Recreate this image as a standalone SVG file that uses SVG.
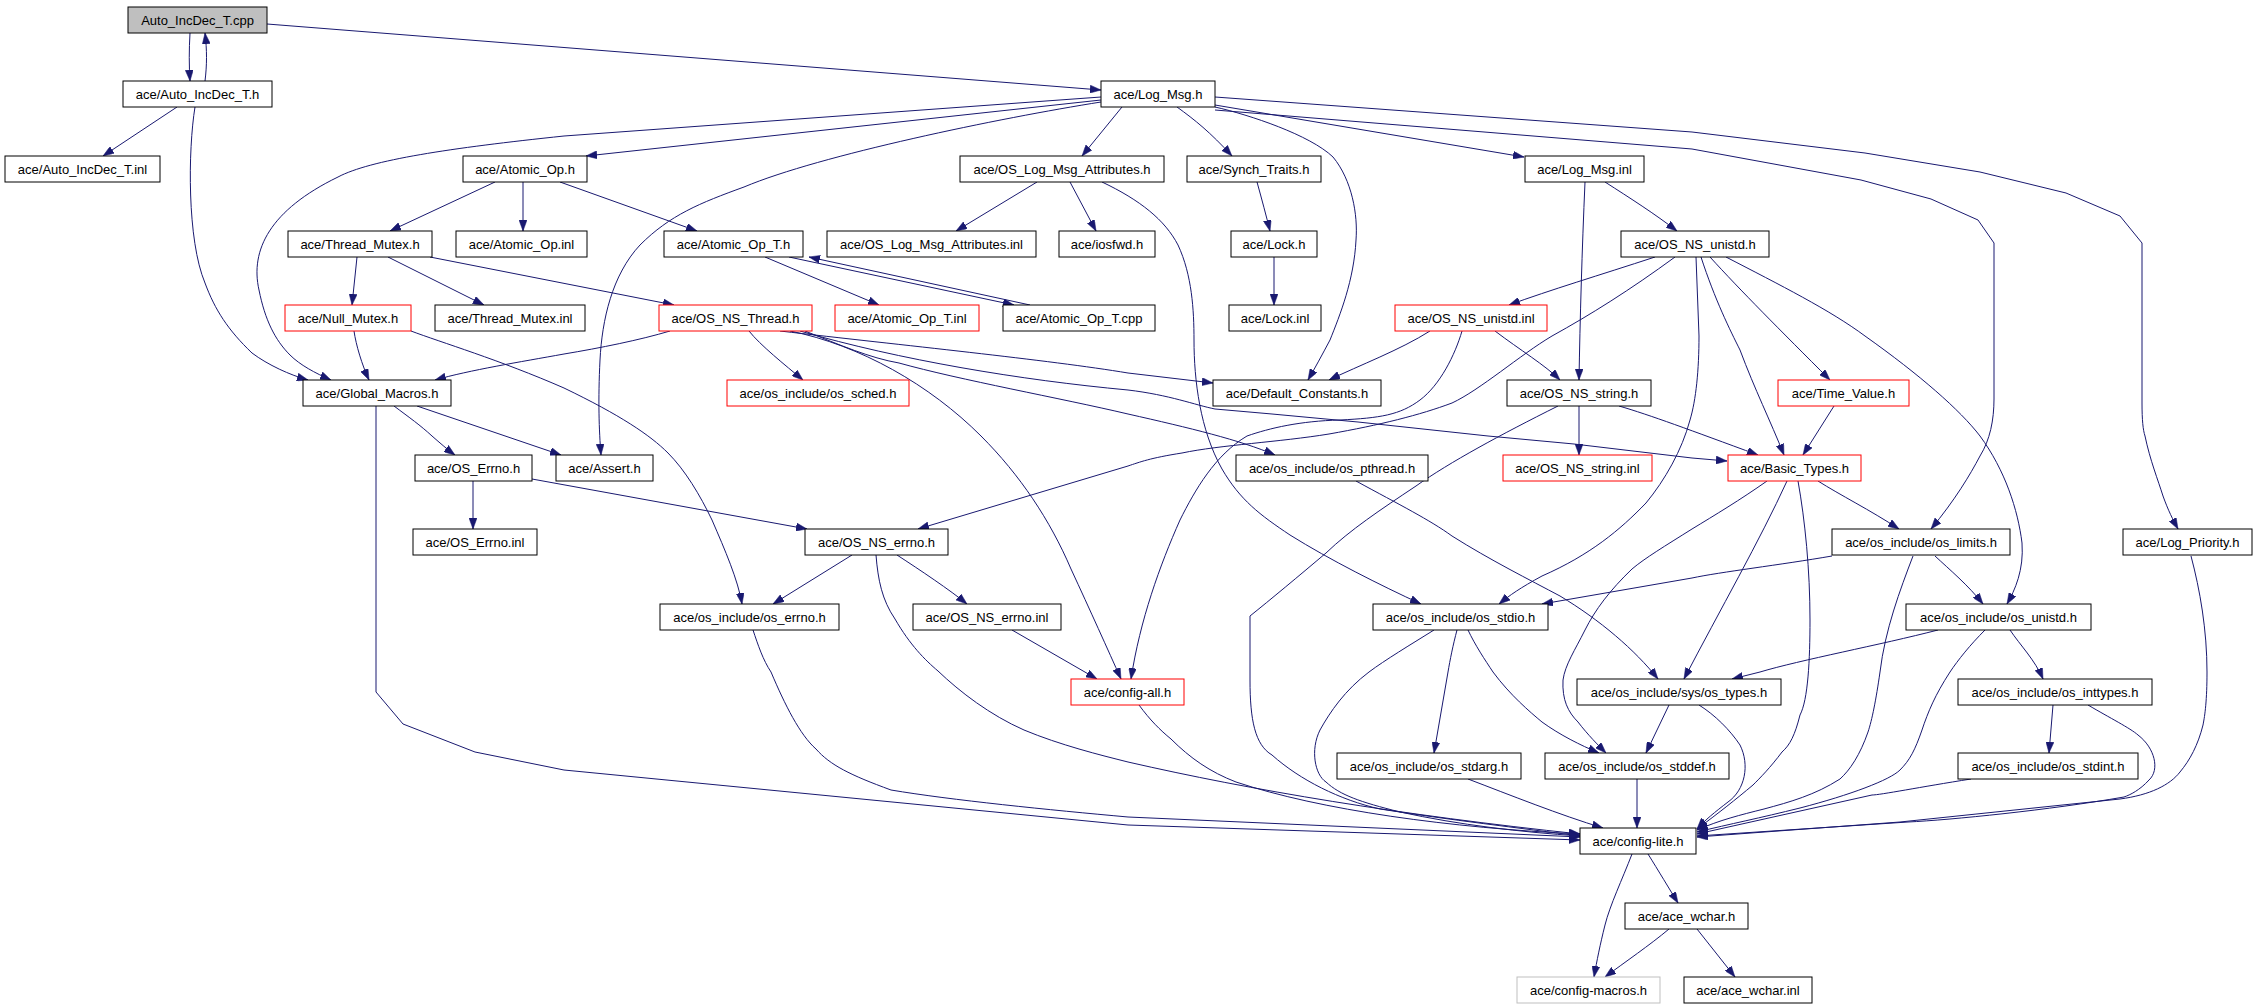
<svg xmlns="http://www.w3.org/2000/svg" width="2253" height="1008" viewBox="0 0 2253 1008">
<style>
.node rect{fill:#ffffff;stroke:#000000;stroke-width:1}
.node.red rect{stroke:#ff0000}
.node.root rect{fill:#bfbfbf}
.node.ext rect{stroke:#bfbfbf}
.node text{font-family:"Liberation Sans",Arial,sans-serif;font-size:13px;fill:#000000;text-anchor:middle}
#edges path{fill:none;stroke:#191970;stroke-width:1;marker-end:url(#arr)}
</style>
<defs>
<marker id="arr" viewBox="0 0 11 8" refX="11" refY="4" markerWidth="11" markerHeight="8" markerUnits="userSpaceOnUse" orient="auto">
<path d="M0,0 L11,4 L0,8 z" fill="#191970" stroke="#191970" stroke-width="0.5"/>
</marker>
</defs>
<rect x="0" y="0" width="2253" height="1008" fill="#ffffff"/>
<g id="edges">
<path d="M190,33 C189,50 189,65 190,81"/>
<path d="M205,81 C207,65 207,50 205,33"/>
<path d="M267,24 L1101,90"/>
<path d="M177,107 L103,156"/>
<path d="M195,107 C188,150 187,240 205,283 C215,310 228,330 252,353 C268,365 290,375 308,380"/>
<path d="M1101,97 L564,136 C450,148 370,160 338,177 C270,210 250,250 259,290 C265,320 275,340 290,355 C300,365 315,373 331,380"/>
<path d="M1101,100 L586,156"/>
<path d="M1101,102 C1000,118 820,155 744,187 C700,203 670,215 640,245 C612,275 602,320 600,360 C598,400 599,430 601,455"/>
<path d="M1122,107 L1082,156"/>
<path d="M1177,107 C1195,120 1210,132 1232,156"/>
<path d="M1215,107 C1250,115 1310,135 1333,157 C1352,180 1358,215 1356,240 C1354,280 1340,315 1330,340 C1322,355 1315,368 1308,380"/>
<path d="M1215,105 L1524,157"/>
<path d="M1215,110 L1692,149 L1861,180 L1931,199 L1978,220 L1994,243 L1994,399 C1994,420 1990,440 1980,456 C1970,475 1955,500 1931,529"/>
<path d="M1215,97 L1692,132 L1865,153 L1980,172 L2066,193 L2120,216 L2142,243 L2142,403 C2142,420 2143,430 2145,436 C2150,460 2158,480 2163,496 C2168,510 2173,520 2178,529"/>
<path d="M495,182 L390,231"/>
<path d="M523,182 L523,231"/>
<path d="M560,182 L697,231"/>
<path d="M1037,182 L956,231"/>
<path d="M1070,182 L1096,231"/>
<path d="M1102,182 C1140,200 1165,220 1178,245 C1192,275 1194,310 1194,340 C1194,380 1200,430 1222,469 C1240,500 1260,515 1290,535 C1330,560 1380,585 1421,604"/>
<path d="M1257,182 C1262,200 1266,215 1270,231"/>
<path d="M1274,257 L1274,305"/>
<path d="M1605,182 C1630,198 1655,214 1677,231"/>
<path d="M1585,182 C1582,250 1580,320 1579,380"/>
<path d="M357,257 L352,305"/>
<path d="M388,257 L484,305"/>
<path d="M430,257 L674,305"/>
<path d="M765,257 L879,305"/>
<path d="M789,257 L1014,305"/>
<path d="M1030,305 L809,257"/>
<path d="M354,331 C356,345 362,365 369,380"/>
<path d="M411,331 C440,342 500,360 564,388 C620,415 650,435 668,453 C685,470 700,495 712,520 C725,550 738,580 742,604"/>
<path d="M670,331 C640,340 600,348 564,354 C520,362 470,370 435,380"/>
<path d="M749,331 C760,345 785,365 803,380"/>
<path d="M790,331 C860,345 930,385 981,436 C1020,475 1050,520 1071,569 C1090,610 1108,650 1121,679"/>
<path d="M780,331 C900,345 1050,360 1128,373 L1213,383"/>
<path d="M800,331 C900,360 1020,380 1128,390 C1170,395 1195,405 1215,409 L1272,414 L1358,422 L1488,436 L1574,444 L1692,458 L1727,461"/>
<path d="M805,331 C840,345 870,358 899,363 C960,380 1060,398 1128,414 C1190,428 1240,440 1275,455"/>
<path d="M1655,257 C1600,275 1550,290 1509,305"/>
<path d="M1675,257 C1630,290 1590,315 1552,336 C1520,355 1480,390 1452,403 C1420,415 1380,425 1329,434 C1280,442 1220,445 1182,453 C1150,458 1140,462 1128,466 L918,529"/>
<path d="M1696,257 L1699,336 C1699,370 1696,400 1690,420 C1682,450 1665,480 1646,503 C1620,530 1590,555 1542,576 C1520,588 1510,595 1499,604"/>
<path d="M1701,257 C1715,300 1730,330 1740,350 C1755,390 1770,420 1784,455"/>
<path d="M1710,257 C1740,290 1780,330 1830,380"/>
<path d="M1726,257 C1780,285 1830,310 1865,336 C1920,375 1960,410 1980,436 C2005,470 2018,510 2022,543 C2024,570 2015,590 2007,604"/>
<path d="M1430,331 C1400,350 1360,365 1329,380"/>
<path d="M1495,331 C1520,350 1545,365 1560,380"/>
<path d="M1462,331 C1455,355 1440,385 1420,400 C1400,415 1380,418 1340,420 C1300,421 1270,428 1247,436 C1215,455 1195,490 1180,520 C1160,565 1140,620 1131,679"/>
<path d="M1579,406 L1579,455"/>
<path d="M1619,406 C1650,415 1690,430 1758,455"/>
<path d="M1558,406 C1500,435 1450,462 1416,486 C1380,510 1350,530 1326,553 C1300,575 1270,600 1250,616 L1250,680 C1250,720 1255,745 1272,755 C1300,780 1340,800 1380,809 C1450,820 1520,828 1580,836"/>
<path d="M1834,406 L1803,455"/>
<path d="M394,406 C410,418 420,425 432,436 C440,443 448,450 455,455"/>
<path d="M417,406 L561,455"/>
<path d="M376,406 L376,692 L403,724 L475,752 L564,770 L1128,825 L1580,840"/>
<path d="M473,481 L473,529"/>
<path d="M532,479 L807,529"/>
<path d="M852,555 L773,604"/>
<path d="M897,555 C920,570 950,590 967,604"/>
<path d="M876,555 C878,580 882,600 895,619 C910,645 925,660 938,671 C960,692 990,715 1024,730 C1060,745 1100,755 1128,762 C1250,790 1400,815 1580,834"/>
<path d="M753,630 C758,645 763,660 771,672 C785,705 800,735 816,749 C830,765 850,775 891,790 C950,800 1050,810 1128,817 L1580,837"/>
<path d="M1012,630 L1097,679"/>
<path d="M1139,705 C1150,720 1160,730 1171,739 C1190,758 1210,772 1236,782 C1320,810 1450,828 1580,834"/>
<path d="M1434,630 C1410,645 1385,660 1369,672 C1345,690 1330,712 1320,730 C1310,750 1315,775 1326,782 C1340,795 1360,802 1400,812 C1460,825 1520,832 1580,836"/>
<path d="M1457,630 C1453,645 1450,660 1448,672 L1434,753"/>
<path d="M1468,630 C1475,645 1485,660 1493,672 C1510,695 1530,712 1542,722 C1560,735 1580,745 1599,753"/>
<path d="M1468,779 C1510,795 1560,815 1603,828"/>
<path d="M1637,779 L1637,828"/>
<path d="M1669,705 L1646,753"/>
<path d="M1699,705 C1715,715 1730,730 1740,745 C1750,765 1745,790 1728,802 C1715,812 1705,820 1697,829"/>
<path d="M1356,481 C1400,505 1430,520 1452,536 C1490,560 1530,580 1560,596 C1600,620 1635,650 1658,679"/>
<path d="M1787,481 C1760,540 1720,610 1684,679"/>
<path d="M1818,481 C1840,495 1870,510 1899,529"/>
<path d="M1767,481 C1740,500 1715,515 1692,529 C1665,546 1645,558 1632,569 C1610,590 1595,610 1585,630 C1575,650 1565,665 1563,680 C1562,700 1568,712 1578,722 C1588,735 1598,745 1606,753"/>
<path d="M1798,481 C1805,520 1810,570 1810,620 C1810,660 1808,700 1800,715 C1795,735 1790,745 1782,752 C1770,768 1760,778 1753,785 C1735,800 1720,812 1697,829"/>
<path d="M1832,556 C1780,565 1720,572 1692,578 L1542,604"/>
<path d="M1935,556 C1950,570 1968,585 1983,604"/>
<path d="M1913,556 C1900,590 1885,630 1880,672 C1876,700 1872,720 1868,732 C1860,755 1850,770 1840,779 C1815,795 1790,802 1764,809 C1740,815 1720,820 1697,830"/>
<path d="M1938,630 C1880,645 1800,660 1760,672 L1732,679"/>
<path d="M2010,630 C2020,645 2035,660 2043,679"/>
<path d="M1985,630 C1970,645 1958,660 1950,672 C1935,695 1928,712 1922,730 C1915,750 1910,760 1900,770 C1890,780 1850,795 1800,808 C1760,818 1730,824 1697,832"/>
<path d="M2053,705 L2049,753"/>
<path d="M2088,705 C2110,718 2130,728 2138,735 C2155,748 2160,770 2149,780 C2140,790 2130,795 2124,797 C2050,810 1950,820 1908,822 L1697,836"/>
<path d="M1971,779 C1920,787 1880,795 1872,795 L1697,834"/>
<path d="M2191,556 C2200,590 2207,630 2207,672 C2207,700 2205,715 2203,725 C2198,745 2190,760 2180,772 C2170,785 2150,795 2120,799 L1900,822 L1697,837"/>
<path d="M1632,854 C1622,880 1610,905 1605,925 C1600,945 1597,960 1594,977"/>
<path d="M1648,854 C1658,870 1670,890 1678,903"/>
<path d="M1669,929 C1650,945 1625,962 1605,977"/>
<path d="M1697,929 L1735,977"/>
</g>
<g id="n_cpp" class="node root"><rect x="128" y="7" width="139" height="26"/><text x="197.5" y="25">Auto_IncDec_T.cpp</text></g>
<g id="n_aih" class="node"><rect x="123" y="81" width="149" height="26"/><text x="197.5" y="99">ace/Auto_IncDec_T.h</text></g>
<g id="n_logmsg" class="node"><rect x="1101" y="81" width="114" height="26"/><text x="1158" y="99">ace/Log_Msg.h</text></g>
<g id="n_aiinl" class="node"><rect x="5" y="156" width="155" height="26"/><text x="82.5" y="174">ace/Auto_IncDec_T.inl</text></g>
<g id="n_atomic" class="node"><rect x="463" y="156" width="124" height="26"/><text x="525" y="174">ace/Atomic_Op.h</text></g>
<g id="n_oslma" class="node"><rect x="960" y="156" width="204" height="26"/><text x="1062" y="174">ace/OS_Log_Msg_Attributes.h</text></g>
<g id="n_synch" class="node"><rect x="1187" y="156" width="134" height="26"/><text x="1254" y="174">ace/Synch_Traits.h</text></g>
<g id="n_logmsginl" class="node"><rect x="1525" y="156" width="119" height="26"/><text x="1584.5" y="174">ace/Log_Msg.inl</text></g>
<g id="n_tmh" class="node"><rect x="288" y="231" width="144" height="26"/><text x="360" y="249">ace/Thread_Mutex.h</text></g>
<g id="n_atomicinl" class="node"><rect x="456" y="231" width="131" height="26"/><text x="521.5" y="249">ace/Atomic_Op.inl</text></g>
<g id="n_atomict" class="node"><rect x="664" y="231" width="139" height="26"/><text x="733.5" y="249">ace/Atomic_Op_T.h</text></g>
<g id="n_oslmainl" class="node"><rect x="827" y="231" width="209" height="26"/><text x="931.5" y="249">ace/OS_Log_Msg_Attributes.inl</text></g>
<g id="n_iosfwd" class="node"><rect x="1059" y="231" width="96" height="26"/><text x="1107" y="249">ace/iosfwd.h</text></g>
<g id="n_lock" class="node"><rect x="1231" y="231" width="86" height="26"/><text x="1274" y="249">ace/Lock.h</text></g>
<g id="n_unistd" class="node"><rect x="1621" y="231" width="148" height="26"/><text x="1695" y="249">ace/OS_NS_unistd.h</text></g>
<g id="n_null" class="node red"><rect x="285" y="305" width="126" height="26"/><text x="348" y="323">ace/Null_Mutex.h</text></g>
<g id="n_tminl" class="node"><rect x="435" y="305" width="150" height="26"/><text x="510" y="323">ace/Thread_Mutex.inl</text></g>
<g id="n_thread" class="node red"><rect x="659" y="305" width="153" height="26"/><text x="735.5" y="323">ace/OS_NS_Thread.h</text></g>
<g id="n_atomictinl" class="node red"><rect x="835" y="305" width="144" height="26"/><text x="907" y="323">ace/Atomic_Op_T.inl</text></g>
<g id="n_atomictcpp" class="node"><rect x="1003" y="305" width="152" height="26"/><text x="1079" y="323">ace/Atomic_Op_T.cpp</text></g>
<g id="n_lockinl" class="node"><rect x="1229" y="305" width="92" height="26"/><text x="1275" y="323">ace/Lock.inl</text></g>
<g id="n_unistdinl" class="node red"><rect x="1395" y="305" width="152" height="26"/><text x="1471" y="323">ace/OS_NS_unistd.inl</text></g>
<g id="n_global" class="node"><rect x="303" y="380" width="148" height="26"/><text x="377" y="398">ace/Global_Macros.h</text></g>
<g id="n_sched" class="node red"><rect x="727" y="380" width="182" height="26"/><text x="818" y="398">ace/os_include/os_sched.h</text></g>
<g id="n_defconst" class="node"><rect x="1213" y="380" width="168" height="26"/><text x="1297" y="398">ace/Default_Constants.h</text></g>
<g id="n_string" class="node"><rect x="1507" y="380" width="144" height="26"/><text x="1579" y="398">ace/OS_NS_string.h</text></g>
<g id="n_time" class="node red"><rect x="1778" y="380" width="131" height="26"/><text x="1843.5" y="398">ace/Time_Value.h</text></g>
<g id="n_errno" class="node"><rect x="415" y="455" width="117" height="26"/><text x="473.5" y="473">ace/OS_Errno.h</text></g>
<g id="n_assert" class="node"><rect x="556" y="455" width="97" height="26"/><text x="604.5" y="473">ace/Assert.h</text></g>
<g id="n_pthread" class="node"><rect x="1236" y="455" width="192" height="26"/><text x="1332" y="473">ace/os_include/os_pthread.h</text></g>
<g id="n_stringinl" class="node red"><rect x="1503" y="455" width="149" height="26"/><text x="1577.5" y="473">ace/OS_NS_string.inl</text></g>
<g id="n_basic" class="node red"><rect x="1728" y="455" width="133" height="26"/><text x="1794.5" y="473">ace/Basic_Types.h</text></g>
<g id="n_errnoinl" class="node"><rect x="413" y="529" width="124" height="26"/><text x="475" y="547">ace/OS_Errno.inl</text></g>
<g id="n_nserrno" class="node"><rect x="805" y="529" width="143" height="26"/><text x="876.5" y="547">ace/OS_NS_errno.h</text></g>
<g id="n_limits" class="node"><rect x="1832" y="529" width="178" height="26"/><text x="1921" y="547">ace/os_include/os_limits.h</text></g>
<g id="n_logprio" class="node"><rect x="2123" y="529" width="129" height="26"/><text x="2187.5" y="547">ace/Log_Priority.h</text></g>
<g id="n_oserrno" class="node"><rect x="660" y="604" width="179" height="26"/><text x="749.5" y="622">ace/os_include/os_errno.h</text></g>
<g id="n_nserrnoinl" class="node"><rect x="913" y="604" width="148" height="26"/><text x="987" y="622">ace/OS_NS_errno.inl</text></g>
<g id="n_stdio" class="node"><rect x="1373" y="604" width="175" height="26"/><text x="1460.5" y="622">ace/os_include/os_stdio.h</text></g>
<g id="n_osunistd" class="node"><rect x="1906" y="604" width="185" height="26"/><text x="1998.5" y="622">ace/os_include/os_unistd.h</text></g>
<g id="n_configall" class="node red"><rect x="1071" y="679" width="113" height="26"/><text x="1127.5" y="697">ace/config-all.h</text></g>
<g id="n_types" class="node"><rect x="1577" y="679" width="204" height="26"/><text x="1679" y="697">ace/os_include/sys/os_types.h</text></g>
<g id="n_inttypes" class="node"><rect x="1958" y="679" width="194" height="26"/><text x="2055" y="697">ace/os_include/os_inttypes.h</text></g>
<g id="n_stdarg" class="node"><rect x="1337" y="753" width="184" height="26"/><text x="1429" y="771">ace/os_include/os_stdarg.h</text></g>
<g id="n_stddef" class="node"><rect x="1545" y="753" width="184" height="26"/><text x="1637" y="771">ace/os_include/os_stddef.h</text></g>
<g id="n_stdint" class="node"><rect x="1958" y="753" width="180" height="26"/><text x="2048" y="771">ace/os_include/os_stdint.h</text></g>
<g id="n_lite" class="node"><rect x="1580" y="828" width="116" height="26"/><text x="1638" y="846">ace/config-lite.h</text></g>
<g id="n_wchar" class="node"><rect x="1625" y="903" width="123" height="26"/><text x="1686.5" y="921">ace/ace_wchar.h</text></g>
<g id="n_macros" class="node ext"><rect x="1517" y="977" width="143" height="26"/><text x="1588.5" y="995">ace/config-macros.h</text></g>
<g id="n_wcharinl" class="node"><rect x="1684" y="977" width="128" height="26"/><text x="1748" y="995">ace/ace_wchar.inl</text></g>
</svg>
